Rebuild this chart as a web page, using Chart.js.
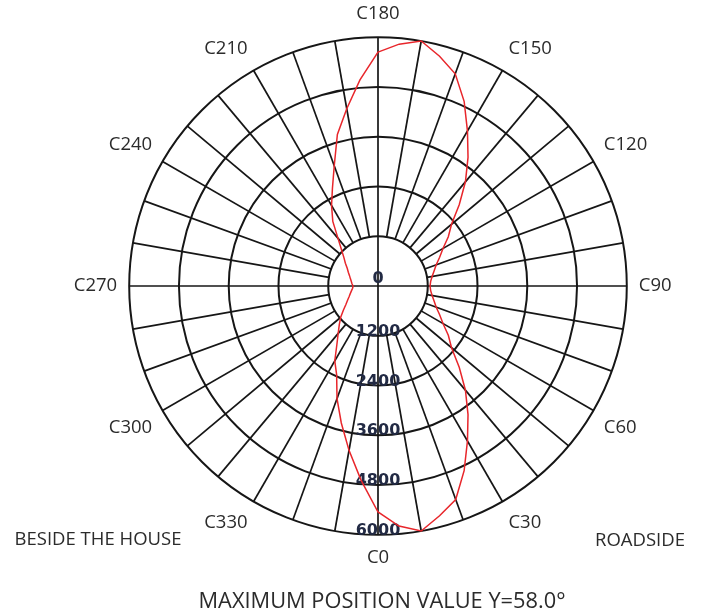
<!DOCTYPE html>
<html>
<head>
<meta charset="utf-8">
<script src="https://cdn.jsdelivr.net/npm/chart.js@4.4.1/dist/chart.umd.min.js"></script>
<style>
html,body{margin:0;padding:0;background:#ffffff;}
#wrap{position:relative;width:706px;height:616px;overflow:hidden;background:#fff;}
#c{position:absolute;left:0;top:0;}
.t{position:absolute;font-family:'Open Sans',sans-serif;color:#2b2b2b;white-space:nowrap;line-height:1;transform:translate(-50%,-50%);}
</style>
</head>
<body>
<div id="wrap">
  <canvas id="c" width="706" height="616"></canvas>
  <div class="t" style="left:98px;top:538px;font-size:18.5px;">BESIDE THE HOUSE</div>
  <div class="t" style="left:640px;top:539px;font-size:18.5px;">ROADSIDE</div>
  <div class="t" style="left:382px;top:600px;font-size:21.8px;">MAXIMUM POSITION VALUE Y=58.0°</div>
</div>
<script>
// C-plane angles (degrees) and luminous intensity values (cd)
const cAngles = [0,5,10,15,20,25,30,35,40,45,50,55,60,65,70,75,80,85,
                 90,95,100,105,110,115,120,125,130,135,140,145,150,155,160,165,170,175,
                 180,185,190,195,200,205,210,215,220,225,230,235,240,245,250,255,260,265,
                 270,275,280,285,290,295,300,305,310,315,320,325,330,335,340,345,350,355];
const intensity = [5450,5810,6000,5735,5480,4915,4315,3785,3280,2770,2315,2070,1810,1640,1495,1400,1325,1275,
                   1255,1275,1325,1400,1495,1640,1810,2070,2315,2770,3280,3785,4315,4915,5445,5735,6000,5855,
                   5640,4990,4340,3785,3085,2600,2240,1900,1500,1250,1075,960,857,790,731,690,655,630,
                   600,615,648,690,740,810,894,1020,1174,1320,1494,1730,2085,2360,2890,3420,4025,4700];
const radialTicks = [0,1200,2400,3600,4800,6000];
const labelEvery = 30;   // C labels shown every 30 degrees
const spokeEvery = 10;   // grid spokes every 10 degrees

const gridColor = '#161616';
const curveColor = '#e8262b';

// Chart.js radar goes clockwise from the top; C180 is at the top and C90 on the right.
const radarLabels = [];
const radarData = [];
for (let i = 0; i < cAngles.length; i++) {
  const deg = ((180 - i * 5) % 360 + 360) % 360;
  radarLabels.push(deg);
  radarData.push(intensity[cAngles.indexOf(deg)]);
}

const gridPlugin = {
  id: 'polarGrid',
  beforeDatasetsDraw(chart) {
    const s = chart.scales.r;
    const ctx = chart.ctx;
    ctx.save();
    ctx.strokeStyle = gridColor;
    ctx.lineWidth = 1.7;
    radarLabels.forEach((deg, i) => {
      if (deg % spokeEvery !== 0) return;
      const inner = (deg % 90 === 0) ? radialTicks[0] : radialTicks[1];
      const a = s.getPointPositionForValue(i, inner);
      const b = s.getPointPositionForValue(i, s.max);
      ctx.beginPath();
      ctx.moveTo(a.x, a.y);
      ctx.lineTo(b.x, b.y);
      ctx.stroke();
    });
    // radial tick labels along the C0 direction
    const idx = radarLabels.indexOf(0);
    ctx.font = "bold 16px 'DejaVu Sans'";
    ctx.fillStyle = '#222a44';
    ctx.textAlign = 'center';
    ctx.textBaseline = 'middle';
    radialTicks.forEach(v => {
      const p = s.getPointPositionForValue(idx, v);
      ctx.fillText(String(v), p.x, p.y - (v === 0 ? 7 : 4));
    });
    ctx.restore();
  }
};

new Chart(document.getElementById('c').getContext('2d'), {
  type: 'radar',
  data: {
    labels: radarLabels,
    datasets: [{
      data: radarData,
      borderColor: curveColor,
      borderWidth: 1.5,
      pointRadius: 0,
      pointHoverRadius: 0,
      fill: false,
      tension: 0
    }]
  },
  options: {
    responsive: false,
    animation: false,
    devicePixelRatio: 1,
    layout: { padding: { left: 44, right: 0, top: 4, bottom: 46 } },
    plugins: { legend: { display: false }, tooltip: { enabled: false } },
    scales: {
      r: {
        min: 0,
        max: 6000,
        startAngle: 0,
        ticks: { display: false, stepSize: 1200 },
        grid: { circular: true, color: gridColor, lineWidth: 2 },
        angleLines: { display: false },
        pointLabels: {
          display: true,
          padding: 12,
          color: '#2b2b2b',
          font: { family: 'Open Sans', size: 18.5 },
          callback: (v) => (v % labelEvery === 0 ? 'C' + v : '')
        }
      }
    }
  },
  plugins: [gridPlugin]
});
</script>
</body>
</html>
